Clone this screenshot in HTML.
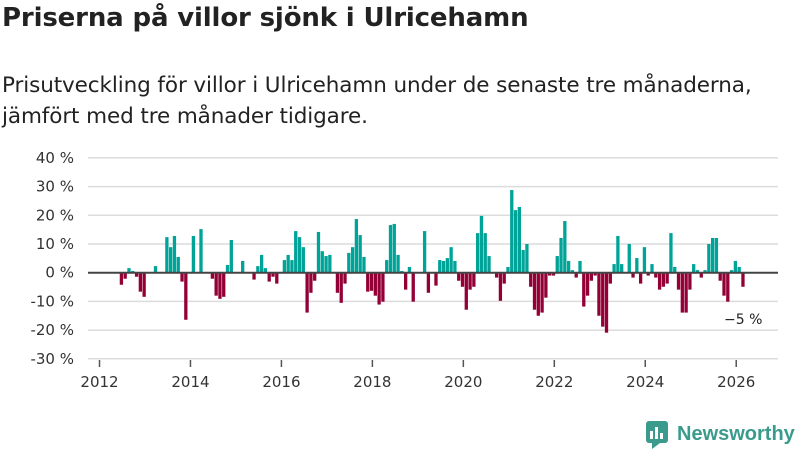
<!DOCTYPE html>
<html><head><meta charset="utf-8"><style>
body{margin:0;width:800px;height:450px;background:#fff;font-family:"Liberation Sans","DejaVu Sans",sans-serif;overflow:hidden;position:relative;color:#222}
#title{position:absolute;left:2px;top:3px;font-size:26px;font-weight:bold;margin:0;font-family:"DejaVu Sans",sans-serif;letter-spacing:-0.15px}
#sub{position:absolute;left:2px;top:70px;line-height:31px;color:#222;font-family:"DejaVu Sans",sans-serif;font-size:21.5px;letter-spacing:-0.1px}
svg{position:absolute;left:0;top:0}
</style></head><body>
<h1 id="title">Priserna på villor sjönk i Ulricehamn</h1>
<div id="sub">Prisutveckling för villor i Ulricehamn under de senaste tre månaderna,<br>jämfört med tre månader tidigare.</div>
<svg id="chart" width="800" height="450"></svg>
<script>
const startYear = 2012, startMonth = 5; // June 2012
const values = [-4.2,-2.1,1.6,0.6,-1.4,-6.6,-8.4,0,0,2.3,0,0,12.4,8.9,12.8,5.5,-3.1,-16.4,0,12.8,0,15.2,0,0,-2.1,-8,-9.1,-8.4,2.7,11.4,0,0,4.1,0,0,-2.4,2.3,6.2,1.6,-3.1,-1.4,-3.8,0,4.4,6.2,4.4,14.5,12.4,8.9,-13.9,-7,-2.8,14.2,7.5,5.8,6.2,0,-7,-10.5,-3.8,6.9,8.9,18.7,13.1,5.5,-6.6,-6.3,-8,-11.1,-10.1,4.4,16.6,17,6.2,0.6,-5.9,2,-10.1,0,0,14.5,-7,0,-4.5,4.4,4.1,5.1,8.9,4.1,-2.8,-4.9,-12.9,-5.9,-4.9,13.8,19.8,13.8,5.8,0,-1.7,-9.8,-3.8,2,28.8,21.8,22.9,7.9,10,-4.9,-12.9,-15,-13.9,-8.7,-1,-1,5.8,12.1,18,4.1,0.9,-1.7,4.1,-11.8,-8,-2.8,-1,-15,-18.8,-20.9,-3.8,3,12.8,3,0,10,-1.7,5.1,-3.8,8.9,-1,3,-1.7,-5.9,-4.9,-3.8,13.8,2,-5.9,-13.9,-13.9,-5.9,3,0.9,-1.7,0.9,10,12.1,12.1,-2.8,-8,-10.1,0.9,4.1,2,-4.9];
const yTicks = [40,30,20,10,0,-10,-20,-30];
const xTicks = [2012,2014,2016,2018,2020,2022,2024,2026];
const lastLabel = "−5 %";

const NS="http://www.w3.org/2000/svg";
const svg=document.getElementById('chart');
function y(v){return 272.7 - v*2.87;}
function xm(monthsFrom2012){return 99.5 + monthsFrom2012*3.79;}
function xYear(yr){return xm((yr-2012)*12);}
function mk(tag,attrs){const e=document.createElementNS(NS,tag);for(const k in attrs)e.setAttribute(k,attrs[k]);svg.appendChild(e);return e;}

yTicks.forEach(t=>{
  const g=mk('line',{x1:88,x2:778,y1:y(t),y2:y(t),stroke:'#dcdcdc','stroke-width':1.5});
  
  
  const l=mk('text',{x:74,y:y(t)+5,'text-anchor':'end','font-size':15,fill:'#333','font-family':'DejaVu Sans, sans-serif'});
  l.textContent=t+' %';
  
  
});
xTicks.forEach(t=>{
  const x=xYear(t);
  const tk=mk('line',{x1:x,x2:x,y1:360,y2:367,stroke:'#555','stroke-width':1.5});
  
  
  const l=mk('text',{x:x,y:387,'text-anchor':'middle','font-size':15,fill:'#333','font-family':'DejaVu Sans, sans-serif'});
  l.textContent=t;
  
  
});
values.forEach((v,i)=>{
  if(v===0)return;
  const m=startMonth+i;
  const x=xm(m)+1.3;
  const top=Math.min(y(v),y(0)), h=Math.abs(y(v)-y(0));
  const r=mk('rect',{x:x,y:top,width:3.3,height:h,fill:v>0?'#00a398':'#930036'});
  
  
});
const z=mk('line',{x1:88,x2:778,y1:y(0),y2:y(0),stroke:'#444','stroke-width':2});


const li=values.length-1;
const lb=mk('text',{x:xm(startMonth+li)-16,y:y(values[li])+37,'font-size':14,fill:'#222','font-family':'DejaVu Sans, sans-serif'});
lb.textContent=lastLabel;


</script>
<svg width="800" height="450">
<rect x="646" y="421" width="22" height="22" rx="3" fill="#3a9b8c"/>
<rect x="650" y="431" width="3" height="8" fill="#fff"/><rect x="655" y="427" width="3" height="12" fill="#fff"/><rect x="660" y="433" width="3" height="6" fill="#fff"/>
<polygon points="652,443 660,443 652,449" fill="#3a9b8c"/>
<text x="677" y="440" font-size="20" font-weight="bold" fill="#3a9b8c" font-family="Liberation Sans, sans-serif">Newsworthy</text>
</svg>
</body></html>
